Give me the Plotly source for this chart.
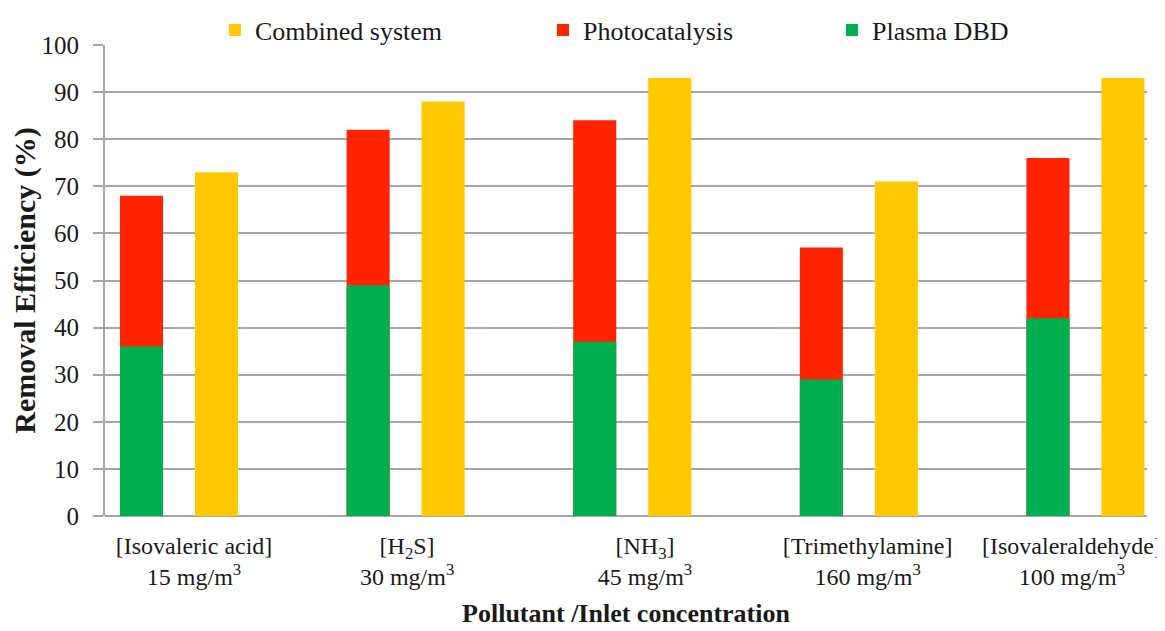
import plotly.graph_objects as go

categories = ["[Isovaleric acid]<br>15 mg/m<sup>3</sup>",
              "[H<sub>2</sub>S]<br>30 mg/m<sup>3</sup>",
              "[NH<sub>3</sub>]<br>45 mg/m<sup>3</sup>",
              "[Trimethylamine]<br>160 mg/m<sup>3</sup>",
              "[Isovaleraldehyde]<br>100 mg/m<sup>3</sup>"]
plasma_dbd = [36, 49, 37, 29, 42]
photocatalysis = [68, 82, 84, 57, 76]
combined = [73, 88, 93, 71, 93]
y_ticks = list(range(0, 101, 10))

# layout helpers (category index positions, label nudges)
xpos = list(range(len(categories)))
label_shift = [-0.107, -0.167, -0.117, -0.135, -0.233]

GREEN = "#00B050"
RED = "#FF2400"
YELLOW = "#FFC800"
FONT = "Liberation Serif, Times New Roman, serif"
BW = 0.19
W, H = 1157, 623  # page body has an 8px margin

fig = go.Figure()
fig.add_trace(go.Bar(x=xpos, y=photocatalysis, name="Photocatalysis", marker_color=RED,
                     width=BW, offset=-0.434, legend="legend2", marker_line_width=0))
fig.add_trace(go.Bar(x=xpos, y=plasma_dbd, name="Plasma DBD", marker_color=GREEN,
                     width=BW, offset=-0.434, legend="legend3", marker_line_width=0))
fig.add_trace(go.Bar(x=xpos, y=combined, name="Combined system", marker_color=YELLOW,
                     width=BW, offset=-0.103, legend="legend", marker_line_width=0))

def leg(xpx):
    return dict(orientation="h", xref="container", yref="container",
                x=xpx / W, y=1 - 22 / H,
                yanchor="middle", xanchor="left", bgcolor="rgba(0,0,0,0)",
                font=dict(family=FONT, size=26, color="#1a1a1a"),
                itemwidth=30, tracegroupgap=0)

fig.update_layout(
    width=W, height=H,
    margin=dict(l=97, r=18, t=37, b=115, autoexpand=False),
    plot_bgcolor="white", paper_bgcolor="white",
    barmode="overlay",
    showlegend=True,
    legend=leg(207), legend2=leg(535), legend3=leg(824),
    font=dict(family=FONT, color="#1a1a1a"),
)
fig.update_xaxes(
    range=[-0.5, 4.098], tickmode="array", automargin=False,
    tickvals=[p + s for p, s in zip(xpos, label_shift)], ticktext=categories,
    tickfont=dict(family=FONT, size=24, color="#1a1a1a"),
    showgrid=False, zeroline=False, showline=False, ticks="",
    ticklabelstandoff=13,
    title=dict(text="<b>Pollutant /Inlet concentration</b>",
               font=dict(family=FONT, size=26, color="#1a1a1a"), standoff=14),
)
fig.update_yaxes(
    range=[0, 100], tickvals=y_ticks, automargin=False,
    tickfont=dict(family=FONT, size=25, color="#1a1a1a"),
    showgrid=True, gridcolor="#a6a6a6", gridwidth=2,
    zeroline=True, zerolinecolor="#a6a6a6", zerolinewidth=2,
    showline=True, linecolor="#a6a6a6", linewidth=2,
    ticks="outside", ticklen=10, tickcolor="#a6a6a6", tickwidth=2,
    ticklabelstandoff=9,
    title=dict(text="<b>Removal Efficiency (%)</b>",
               font=dict(family=FONT, size=30, color="#1a1a1a"), standoff=6),
)

fig.write_html("out.html")
